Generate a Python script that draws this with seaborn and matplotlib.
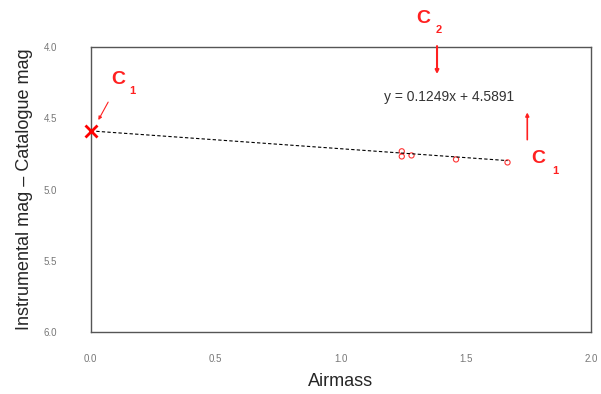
import pandas as pd
import matplotlib.pyplot as plt
import seaborn as sns

# data
airmass = [1.244, 1.244, 1.283, 1.461, 1.667]
delta_mag = [4.732, 4.768, 4.761, 4.789, 4.810]
slope = 0.1249
intercept = 4.5891
fit_x = [0.0, 1.667]
x_ticks = [0.0, 0.5, 1.0, 1.5, 2.0]
y_ticks = [4.0, 4.5, 5.0, 5.5, 6.0]

df_pts = pd.DataFrame({"Airmass": airmass, "dmag": delta_mag})
df_fit = pd.DataFrame({"Airmass": fit_x,
                       "dmag": [slope * x + intercept for x in fit_x]})

sns.set_style("white")
plt.rcParams["font.family"] = ["Liberation Sans", "DejaVu Sans"]

fig = plt.figure(figsize=(6.01, 3.94), dpi=100)
ax = fig.add_axes([0.151, 0.157, 0.832, 0.724])

sns.lineplot(data=df_fit, x="Airmass", y="dmag", ax=ax, color="black",
             linewidth=0.8, linestyle=(0, (3, 2)))
sns.scatterplot(data=df_pts, x="Airmass", y="dmag", ax=ax, s=14,
                facecolor="none", edgecolor="#ff3333", linewidth=0.8)
# extrapolated zero-airmass point
ax.plot([0.0], [intercept], marker="x", color="red", markersize=8,
        markeredgewidth=2, clip_on=False, zorder=5)

ax.set_xlim(0, 2.0)
ax.set_ylim(6.0, 4.0)
ax.set_xticks(x_ticks)
ax.set_yticks(y_ticks)
ax.set_xticklabels([f"{v:.1f}" for v in x_ticks])
ax.set_yticklabels([f"{v:.1f}" for v in y_ticks])
ax.tick_params(axis="both", labelsize=7, labelcolor="#777777",
               direction="in", length=3, color="#444444")
ax.tick_params(axis="x", pad=16)
ax.tick_params(axis="y", pad=24)

for sp in ax.spines.values():
    sp.set_color("#555555")
    sp.set_linewidth(1.0)

ax.set_xlabel("Airmass", fontsize=13, labelpad=6)
ax.set_ylabel("Instrumental mag \u2013 Catalogue mag", fontsize=13, labelpad=8)

ax.text(1.172, 4.352, f"y = {slope}x + {intercept}", fontsize=10,
        color="#333333", va="center")

# C labels and arrows
red = "#ff2020"
ax.text(0.11, 4.23, "C", color=red, fontsize=14, fontweight="bold",
        ha="center", va="center")
ax.text(0.165, 4.31, "1", color=red, fontsize=8, fontweight="bold",
        ha="center", va="center")
ax.annotate("", xy=(0.025, 4.53), xytext=(0.075, 4.37),
            arrowprops=dict(arrowstyle="-|>", color=red, lw=0.8,
                            mutation_scale=5))

ax.annotate("C", xy=(1.33, 3.80), xycoords="data", color=red, fontsize=14,
            fontweight="bold", ha="center", va="center", annotation_clip=False)
ax.annotate("2", xy=(1.39, 3.885), xycoords="data", color=red, fontsize=8,
            fontweight="bold", ha="center", va="center", annotation_clip=False)
ax.annotate("", xy=(1.385, 4.21), xytext=(1.385, 3.975),
            arrowprops=dict(arrowstyle="-|>", color=red, lw=1.5,
                            mutation_scale=5), annotation_clip=False)

ax.text(1.79, 4.785, "C", color=red, fontsize=14, fontweight="bold",
        ha="center", va="center")
ax.text(1.86, 4.87, "1", color=red, fontsize=8, fontweight="bold",
        ha="center", va="center")
ax.annotate("", xy=(1.746, 4.44), xytext=(1.746, 4.67),
            arrowprops=dict(arrowstyle="-|>", color=red, lw=1.2,
                            mutation_scale=5))

fig.savefig("out.png", dpi=100)
